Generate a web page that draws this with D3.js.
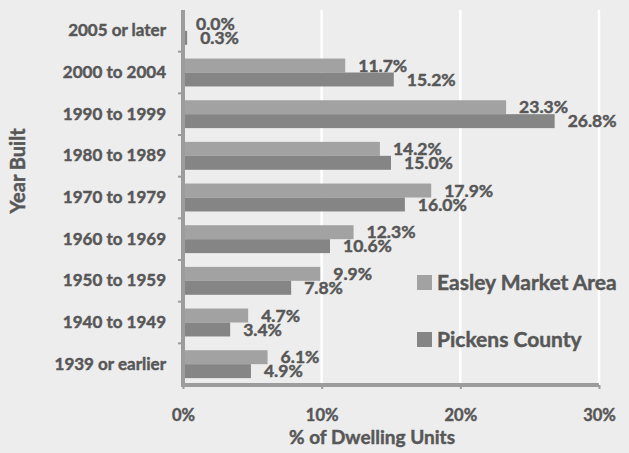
<!DOCTYPE html>
<html><head><meta charset="utf-8">
<script src="https://cdn.jsdelivr.net/npm/d3@7"></script>
<style>
body{margin:0;background:#ededed;}
svg{display:block;font-family:Lato,"Open Sans",sans-serif;font-weight:bold;}
svg text{stroke:#575757;stroke-width:0.45px;paint-order:stroke;}
</style></head>
<body><svg id="c" width="629" height="453"></svg>
<script>
const categories = ["2005 or later","2000 to 2004","1990 to 1999","1980 to 1989","1970 to 1979","1960 to 1969","1950 to 1959","1940 to 1949","1939 or earlier"];
const easley = [0.0, 11.7, 23.3, 14.2, 17.9, 12.3, 9.9, 4.7, 6.1];
const pickens = [0.3, 15.2, 26.8, 15.0, 16.0, 10.6, 7.8, 3.4, 4.9];
const seriesNames = ["Easley Market Area","Pickens County"];
const xTicks = [0, 10, 20, 30];
const colors = ["#a2a2a2","#858585"];
const textColor = "#575757";

const svg = d3.select("#c");
const x = d3.scaleLinear().domain([0,30]).range([183,599]);
const y = d3.scaleBand().domain(categories).range([10,385]).paddingInner(0.33).paddingOuter(0.165);
const sub = d3.scaleBand().domain([0,1]).range([0,y.bandwidth()]);

svg.append("rect").attr("width",629).attr("height",453).attr("fill","#ededed");

// gridlines
svg.append("g").selectAll("line").data(xTicks.slice(1)).join("line")
  .attr("x1",d=>x(d)).attr("x2",d=>x(d)).attr("y1",10).attr("y2",385)
  .attr("stroke","#ffffff").attr("stroke-width",2.5);

const series = [easley, pickens];
series.forEach((vals,si)=>{
  const g = svg.append("g");
  g.selectAll("rect").data(categories).join("rect")
    .attr("x",x(0)).attr("y",(c)=>y(c)+sub(si))
    .attr("width",(c,i)=>Math.max(0,x(vals[i])-x(0))).attr("height",sub.bandwidth())
    .attr("fill",colors[si]);
  g.selectAll("text").data(categories).join("text")
    .attr("x",(c,i)=>x(vals[i])+13).attr("y",(c)=>y(c)+sub(si)+sub.bandwidth()/2)
    .attr("dy","0.36em").attr("font-size",17.5).attr("fill",textColor)
    .text((c,i)=>vals[i].toFixed(1)+"%");
});

// axes
const xAxis = svg.append("g").attr("transform","translate(0,385)")
  .call(d3.axisBottom(x).tickValues(xTicks).tickFormat(d=>d+"%").tickSize(4).tickPadding(20));
xAxis.select(".domain").attr("stroke","#9c9c9c").attr("stroke-width",4).attr("d","M181,0H599");
xAxis.selectAll(".tick line").attr("stroke","#9c9c9c").attr("stroke-width",2);
xAxis.selectAll(".tick text").attr("font-size",16.5).attr("fill",textColor).attr("font-family","Lato").attr("font-weight","bold");

const yAxis = svg.append("g").attr("transform","translate(183,0)")
  .call(d3.axisLeft(y).tickSize(0).tickPadding(17));
yAxis.select(".domain").attr("stroke","#9c9c9c").attr("stroke-width",4).attr("d","M0,10V387");
yAxis.selectAll(".tick text").attr("font-size",17).attr("fill",textColor).attr("font-family","Lato").attr("font-weight","bold");
// small boundary ticks
svg.append("g").selectAll("line").data(categories.slice(1)).join("line")
  .attr("x1",178).attr("x2",183)
  .attr("y1",c=>y(c)-y.step()*y.paddingInner()/2).attr("y2",c=>y(c)-y.step()*y.paddingInner()/2)
  .attr("stroke","#9c9c9c").attr("stroke-width",2);

// titles
svg.append("text").attr("x",372).attr("y",444).attr("text-anchor","middle")
  .attr("font-size",19).attr("fill",textColor).text("% of Dwelling Units");
svg.append("text").attr("transform","translate(25,171) rotate(-90)").attr("text-anchor","middle")
  .attr("font-size",20).attr("fill",textColor).text("Year Built");

// legend
const leg = svg.append("g");
const legY = [275, 332];
seriesNames.forEach((n,i)=>{
  leg.append("rect").attr("x",417).attr("y",legY[i]).attr("width",15).attr("height",15).attr("fill",colors[i]);
  leg.append("text").attr("x",437).attr("y",legY[i]+14.5).attr("font-size",21).attr("fill",textColor).text(n);
});
</script></body></html>
